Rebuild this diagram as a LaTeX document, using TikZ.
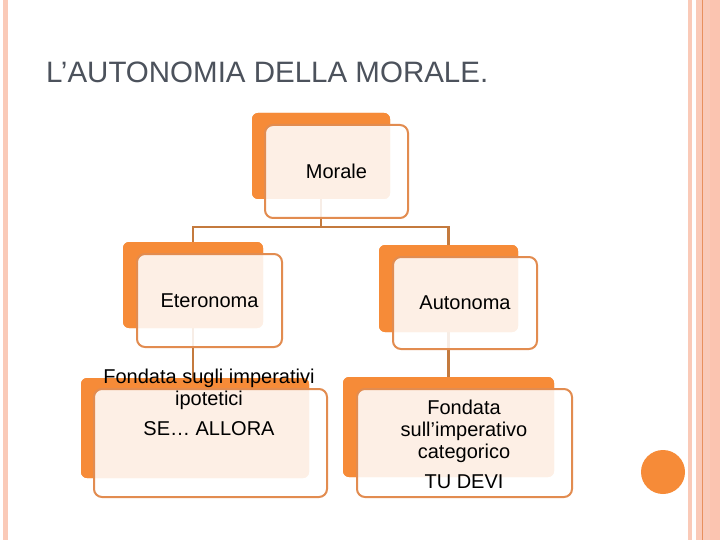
\documentclass[tikz,border=0pt]{standalone}
\usepackage{fontspec}
\setmainfont{Liberation Sans}
\definecolor{orangeback}{RGB}{246,139,56}
\definecolor{frontborder}{RGB}{226,140,80}
\definecolor{connc}{RGB}{196,122,62}
\definecolor{stripe}{RGB}{250,202,184}
\definecolor{stripeb}{RGB}{251,196,176}
\definecolor{stripeline}{RGB}{232,145,95}
\definecolor{titlec}{RGB}{76,82,92}
\tikzset{
  backbox/.style={fill=orangeback, draw=none, rounded corners=6pt, minimum width=#1},
  frontbox/.style={draw=frontborder, line width=2pt, rounded corners=8pt, fill=white, fill opacity=0.87, text opacity=1, text=black, minimum width=#1, font=\fontsize{20}{22}\selectfont},
  conn/.style={draw=connc, line width=2.5pt},
  boxtext/.style={align=center, inner sep=0pt, anchor=north, text=black, font=\fontsize{20}{22}\selectfont}
}
\begin{document}
\begin{tikzpicture}[x=1pt,y=-1pt]
\useasboundingbox (0,0) rectangle (720,540);
\fill[white] (0,0) rectangle (720,540);
% side stripes
\fill[stripe] (3,0) rectangle (8,540);
\fill[stripe] (688,0) rectangle (692,540);
\fill[stripe] (696,0) rectangle (720,540);
\fill[stripeb] (710,0) rectangle (720,540);
\fill[stripeline] (701.5,0) rectangle (702.8,540);
% circle
\fill[orangeback] (663,472) circle (22);
% title
\node[anchor=base west, inner sep=0pt, text=titlec, font=\fontsize{29.5}{32}\selectfont] (title) at (46,83) {L’AUTONOMIA DELLA MORALE.};
% junction coordinate
\coordinate (j) at (321,227);
% back boxes
\node[backbox=138pt, minimum height=86pt] (mback) at (321,156) {};
\node[backbox=140pt, minimum height=86pt] (eback) at (193,285) {};
\node[backbox=139pt, minimum height=87pt] (aback) at (448.5,288.5) {};
\node[backbox=228pt, minimum height=100pt] (blback) at (195,428) {};
\node[backbox=211pt, minimum height=100pt] (brback) at (448.5,427) {};
% connectors
\draw[conn] (mback.center) -- (j);
\draw[conn] (j) -| (eback.center);
\draw[conn] (j) -| (aback.center);
\draw[conn] (eback.center) -- (eback.center |- blback.center);
\draw[conn] (aback.center) -- (aback.center |- brback.center);
% redraw back boxes on top of connectors
\node[backbox=138pt, minimum height=86pt] at (mback) {};
\node[backbox=140pt, minimum height=86pt] at (eback) {};
\node[backbox=139pt, minimum height=87pt] at (aback) {};
\node[backbox=228pt, minimum height=100pt] at (blback) {};
\node[backbox=211pt, minimum height=100pt] at (brback) {};
% front boxes
\node[frontbox=143pt, minimum height=93pt] (mfront) at (336.5,171.5) {Morale};
\node[frontbox=145pt, minimum height=93pt] (efront) at (209.5,300.5) {Eteronoma};
\node[frontbox=144pt, minimum height=92pt] (afront) at (465,303) {Autonoma};
\node[frontbox=233pt, minimum height=108pt] (blfront) at (210.5,443) {};
\node[frontbox=215pt, minimum height=108pt] (brfront) at (464.5,443) {};
% texts of bottom boxes
\node[boxtext] (bltext) at (209,368.5) {Fondata sugli imperativi\\ipotetici\\[8pt]SE… ALLORA};
\node[boxtext] (brtext) at (464,399.5) {Fondata\\sull’imperativo\\categorico\\[8pt]TU DEVI};
\end{tikzpicture}
\end{document}
